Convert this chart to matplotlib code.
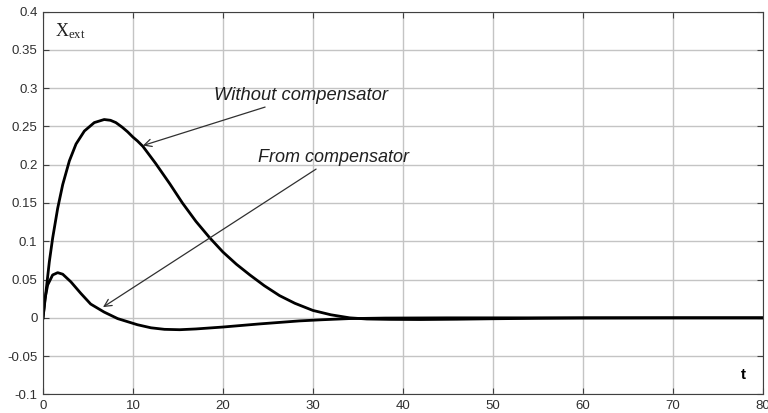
import matplotlib.pyplot as plt
import numpy as np

plt.rcParams['font.family'] = ['Liberation Sans', 'DejaVu Sans']
plt.rcParams['mathtext.fontset'] = 'custom'
plt.rcParams['mathtext.rm'] = 'Liberation Serif'

# transient response of x_ext
t_without = [0, 0.33, 0.7, 1.07, 1.63, 2.19, 2.93, 3.67, 4.6, 5.7, 6.8, 7.5, 8.1, 8.8,
             9.4, 10.0, 10.5, 11.1, 12.5, 14.1, 15.5, 17.0, 18.5, 20, 21.5, 23, 24.6, 26.3,
             28, 30, 32, 34.1, 36, 38.5, 42, 46, 50, 55, 60, 70, 80]
x_without = [0, 0.034, 0.073, 0.104, 0.143, 0.174, 0.205, 0.227, 0.244, 0.255, 0.259,
             0.258, 0.255, 0.249, 0.243, 0.236, 0.231, 0.224, 0.202, 0.175, 0.150, 0.126,
             0.105, 0.086, 0.070, 0.056, 0.042, 0.029, 0.019, 0.0097, 0.004, 0.0, -0.0015,
             -0.002, -0.0022, -0.0018, -0.0012, -0.0006, -0.0002, 0, 0]

t_with = [0, 0.22, 0.52, 1.07, 1.63, 2.19, 3.1, 4.2, 5.3, 6.8, 8.3, 9.4, 10.5, 12, 13.5,
          15.2, 17, 20, 24, 28.5, 31, 34, 38, 45, 55, 80]
x_with = [0, 0.025, 0.043, 0.056, 0.059, 0.057, 0.047, 0.032, 0.018, 0.0075, -0.001,
          -0.005, -0.009, -0.013, -0.015, -0.0155, -0.0145, -0.012, -0.008, -0.004,
          -0.0025, -0.001, -0.0003, 0, 0, 0]

fig = plt.figure(figsize=(7.68, 4.13), dpi=100)
ax = fig.add_axes([0.056, 0.045, 0.937, 0.927])

ax.plot(t_without, x_without, color='black', lw=2, solid_joinstyle='round')
ax.plot(t_with, x_with, color='black', lw=2, solid_joinstyle='round')

ax.set_xlim(0, 80)
ax.set_ylim(-0.1, 0.4)
ax.set_xticks(np.arange(0, 81, 10))
ax.set_yticks(np.arange(-0.1, 0.41, 0.05))
ax.set_yticklabels(['-0.1', '-0.05', '0', '0.05', '0.1', '0.15', '0.2', '0.25', '0.3', '0.35', '0.4'])
ax.grid(True, color='#c4c4c4', lw=1)
ax.set_axisbelow(True)
ax.tick_params(direction='in', length=4, top=True, right=True, labelsize=9.5,
               colors='#404040', labelcolor='#303030')
ax.tick_params(axis='x', pad=4)
ax.tick_params(axis='y', pad=4)
for s in ax.spines.values():
    s.set_color('#404040')
    s.set_linewidth(0.8)

arrow = dict(arrowstyle='->', color='#303030', lw=0.9, shrinkA=0, shrinkB=0)
ax.annotate('Without compensator', xy=(11.1, 0.225), xytext=(19.0, 0.29),
            fontsize=13.2, style='italic', color='#202020',
            va='center', ha='left', arrowprops=arrow)
ax.annotate('From compensator', xy=(6.67, 0.014), xytext=(23.9, 0.209),
            fontsize=13, style='italic', color='#202020',
            va='center', ha='left', arrowprops=arrow)

ax.text(1.3, 0.375, r'$\mathrm{X_{ext}}$', fontsize=13, va='center', color='#202020')
ax.text(77.6, -0.074, 't', fontweight='bold', fontsize=11, va='center')

fig.savefig('out.png', dpi=100)
